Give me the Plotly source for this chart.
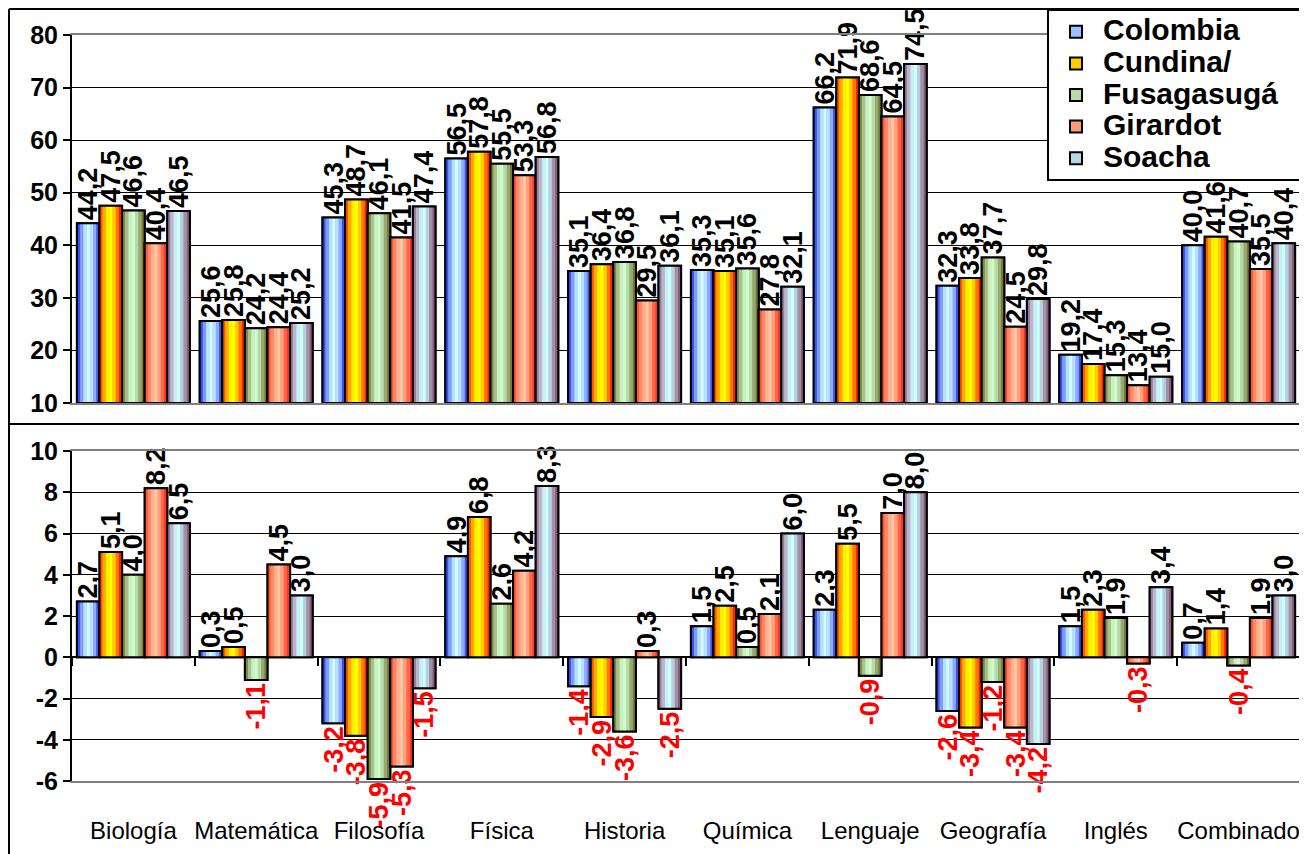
import plotly.graph_objects as go

# ---------------- data ----------------
subjects = ["Biología", "Matemática", "Filosofía", "Física", "Historia",
            "Química", "Lenguaje", "Geografía", "Inglés", "Combinado"]
series_names = ["Colombia", "Cundina/", "Fusagasugá", "Girardot", "Soacha"]

colombia = [44.2, 25.6, 45.3, 56.5, 35.1, 35.3, 66.2, 32.3, 19.2, 40.0]
cundina = [47.5, 25.8, 48.7, 57.8, 36.4, 35.1, 71.9, 33.8, 17.4, 41.6]
fusagasuga = [46.6, 24.2, 46.1, 55.5, 36.8, 35.6, 68.6, 37.7, 15.3, 40.7]
girardot = [40.4, 24.4, 41.5, 53.3, 29.5, 27.8, 64.5, 24.5, 13.4, 35.5]
soacha = [46.5, 25.2, 47.4, 56.8, 36.1, 32.1, 74.5, 29.8, 15.0, 40.4]

colombia_diff = [2.7, 0.3, -3.2, 4.9, -1.4, 1.5, 2.3, -2.6, 1.5, 0.7]
cundina_diff = [5.1, 0.5, -3.8, 6.8, -2.9, 2.5, 5.5, -3.4, 2.3, 1.4]
fusagasuga_diff = [4.0, -1.1, -5.9, 2.6, -3.6, 0.5, -0.9, -1.2, 1.9, -0.4]
girardot_diff = [8.2, 4.5, -5.3, 4.2, 0.3, 2.1, 7.0, -3.4, -0.3, 1.9]
soacha_diff = [6.5, 3.0, -1.5, 8.3, -2.5, 6.0, 8.0, -4.2, 3.4, 3.0]

top_values = [colombia, cundina, fusagasuga, girardot, soacha]
diff_values = [colombia_diff, cundina_diff, fusagasuga_diff, girardot_diff, soacha_diff]

top_ticks = [10, 20, 30, 40, 50, 60, 70, 80]
diff_ticks = [-6, -4, -2, 0, 2, 4, 6, 8, 10]

# ---------------- styles ----------------
stripe_colors = [
    ["#3355ff", "#7f9bff", "#b8e0ff", "#cdfdff", "#b8e0ff", "#8fa8ff", "#3a50ee"],
    ["#ff5500", "#ffaa00", "#ffee00", "#ffff00", "#ffcc00", "#ff7700", "#ff2200"],
    ["#7d8a45", "#a8c089", "#c8f0c0", "#ccffcc", "#b8d8a8", "#98a870", "#6e7a35"],
    ["#ff5533", "#ff8866", "#ffb090", "#ffc8a0", "#ffa080", "#ff6644", "#ff3322"],
    ["#a07a9a", "#b8b8cc", "#c8f0f4", "#ccffff", "#b8d0dc", "#a090a8", "#8a5a7a"],
]
legend_colors = ["#9fc0ff", "#ffcc00", "#b8dca8", "#ff9a78", "#b8d8e0"]

FONT = "Liberation Sans, Arial, sans-serif"
NARROW = "Liberation Sans Narrow, Arial Narrow, Liberation Sans, sans-serif"

# page has an 8px body margin: figure pixel = page pixel - 8
OFF = 8
W, H = 1307 - OFF, 854 - OFF
ML, MT = 72 - OFF, 35 - OFF
MR = W - (1300 - OFF)
MB = H - (781 - OFF)
PW, PH = W - ML - MR, H - MT - MB


def xp(px):
    return (px - OFF - ML) / PW


def yp(py):
    return (H - MB - (py - OFF)) / PH


top_dom = [yp(403), 1.0]
bot_dom = [0.0, yp(451)]
top_min, top_max = top_ticks[0], top_ticks[-1]
bot_min, bot_max = diff_ticks[0], diff_ticks[-1]

group = 0.92
nser = len(series_names)
bw = group / nser

fig = go.Figure()


def fmt(v):
    return f"{v:.1f}".replace(".", ",")


def add_panel(values_list, xa, ya, base, legend):
    for s, vals in enumerate(values_list):
        off = -group / 2 + s * bw
        ys = [v - base for v in vals]
        stripes = stripe_colors[s]
        n = len(stripes)
        fig.add_trace(go.Bar(
            x=subjects, y=ys, base=base, offset=off, width=bw,
            marker=dict(color=legend_colors[s], line=dict(color="black", width=2)),
            name='<span style="font-size:30px">' + series_names[s] + "\u00a0\u00a0</span>",
            legendgroup=series_names[s], showlegend=legend,
            xaxis=xa, yaxis=ya, cliponaxis=False, hoverinfo="skip"))
        for k, c in enumerate(stripes):
            fig.add_trace(go.Bar(
                x=subjects, y=ys, base=base, offset=off + k * bw / n, width=bw / n,
                marker=dict(color=c, line=dict(width=0)),
                showlegend=False, xaxis=xa, yaxis=ya, cliponaxis=False, hoverinfo="skip"))
        fig.add_trace(go.Bar(
            x=subjects, y=ys, base=base, offset=off, width=bw,
            marker=dict(color="rgba(0,0,0,0)", line=dict(color="black", width=2)),
            text=[fmt(v) for v in vals], textposition="outside", textangle=-90,
            constraintext="none",
            textfont=dict(family=FONT, size=27, weight="bold",
                          color=["red" if v < 0 else "black" for v in vals]),
            showlegend=False, xaxis=xa, yaxis=ya, cliponaxis=False, hoverinfo="skip"))


add_panel(top_values, "x", "y", top_min, True)
add_panel(diff_values, "x2", "y2", 0, False)

# dummy trace so the zero-line tick axis is drawn
fig.add_trace(go.Scatter(x=[], y=[], xaxis="x3", yaxis="y2", showlegend=False))

grid = dict(showgrid=True, gridcolor="black", gridwidth=1)
ytick = dict(ticks="outside", ticklen=7, tickwidth=2, tickcolor="black",
             showline=True, linecolor="black", linewidth=2, automargin=False,
             tickfont=dict(family=FONT, size=25, color="black", weight="bold"))

zero_pos = bot_dom[0] + (0 - bot_min) / (bot_max - bot_min) * (bot_dom[1] - bot_dom[0])

fig.update_layout(
    width=W, height=H, margin=dict(l=ML, r=MR, t=MT, b=MB, autoexpand=False),
    paper_bgcolor="white", plot_bgcolor="white",
    barmode="overlay", separators=",.",
    font=dict(family=FONT, color="black"),
    xaxis=dict(domain=[0, 1], anchor="y", type="category", categoryorder="array",
               categoryarray=subjects, range=[-0.5, len(subjects) - 0.5],
               showticklabels=False, ticks="", showgrid=False, automargin=False,
               showline=True, linecolor="#808080", linewidth=2, mirror=True),
    yaxis=dict(domain=top_dom, anchor="x", range=[top_min, top_max],
               tickmode="array", tickvals=top_ticks, ticktext=[str(t) for t in top_ticks],
               zeroline=False, **grid, **ytick),
    xaxis2=dict(domain=[0, 1], anchor="y2", type="category", categoryorder="array",
                categoryarray=subjects, range=[-0.5, len(subjects) - 0.5],
                ticks="outside", ticklen=27, tickcolor="rgba(0,0,0,0)", showgrid=False,
                tickangle=0, automargin=False,
                tickfont=dict(family=NARROW, size=24, color="black"),
                showline=True, linecolor="#808080", linewidth=2, mirror=True),
    yaxis2=dict(domain=bot_dom, anchor="x2", range=[bot_min, bot_max],
                tickmode="array", tickvals=diff_ticks, ticktext=[str(t) for t in diff_ticks],
                zeroline=True, zerolinecolor="black", zerolinewidth=2, **grid, **ytick),
    xaxis3=dict(overlaying="x2", anchor="free", position=zero_pos, type="linear",
                range=[-0.5, len(subjects) - 0.5], automargin=False,
                tickmode="array", tickvals=[i - 0.5 for i in range(len(subjects) + 1)],
                ticks="outside", ticklen=8, tickwidth=2, tickcolor="black",
                showticklabels=False, showgrid=False, showline=False, zeroline=False),
    legend=dict(x=xp(1047), y=yp(9), xanchor="left", yanchor="top",
                bgcolor="white", bordercolor="black", borderwidth=2,
                font=dict(family=FONT, size=22, color="black", weight="bold"),
                tracegroupgap=0, itemsizing="constant", itemwidth=44),
    showlegend=True,
)

# frame lines around the two panels
frame = dict(type="line", xref="paper", yref="paper", line=dict(color="black", width=2))
fig.add_shape(x0=xp(9), x1=xp(9), y0=yp(9), y1=yp(860), **frame)
fig.add_shape(x0=xp(9), x1=xp(1300), y0=yp(9), y1=yp(9), **frame)
fig.add_shape(x0=xp(9), x1=xp(1300), y0=yp(424), y1=yp(424), **frame)
fig.add_shape(x0=xp(1300), x1=xp(1300), y0=yp(424), y1=yp(860), **frame)

fig.write_html("out.html")
